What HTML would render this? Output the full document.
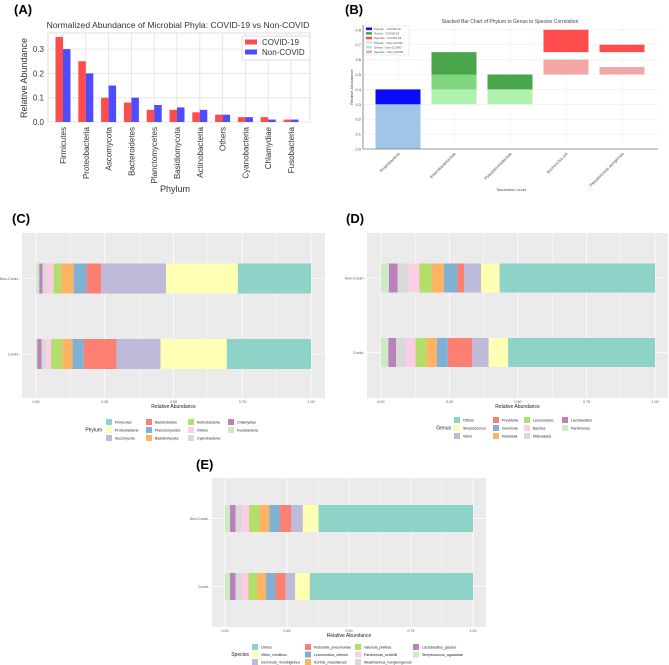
<!DOCTYPE html>
<html><head><meta charset="utf-8"><style>
body{margin:0;background:#fff;}
svg{display:block;font-family:"Liberation Sans",sans-serif;}
</style></head><body>
<svg id="fig" width="669" height="665" viewBox="0 0 669 665">
<rect width="669" height="665" fill="#fff"/>
<text x="14" y="14" font-size="13" font-weight="bold">(A)</text>
<text x="345" y="14" font-size="13" font-weight="bold">(B)</text>
<text x="12" y="223" font-size="13" font-weight="bold">(C)</text>
<text x="346" y="223" font-size="13" font-weight="bold">(D)</text>
<text x="196" y="469" font-size="13" font-weight="bold">(E)</text>
<g id="pa"></g>
<g id="pb"></g>
<g id="pc"></g>
<g id="pd"></g>
<g id="pe"></g>
</svg>
<script>
// ---- Panel A data
const aCats=["Firmicutes","Proteobacteria","Ascomycota","Bacteroidetes","Planctomycetes","Basidiomycota","Actinobacteria","Others","Cyanobacteria","Chlamydiae","Fusobacteria"];
const aCovid=[0.35,0.25,0.10,0.08,0.05,0.05,0.04,0.03,0.02,0.02,0.01];
const aNon=[0.30,0.20,0.15,0.10,0.07,0.06,0.05,0.03,0.02,0.01,0.01];
const aTicks=[0,0.1,0.2,0.3];
// ---- Panel B data
const bCats=["Proteobacteria","Enterobacteriaceae","Pseudomonadaceae","Escherichia coli","Pseudomonas aeruginosa"];
const bSegCat=[0,0,1,1,1,2,2,3,4,3,4];
const bSegBottom=[0,0.3,0.3,0.4,0.5,0.3,0.4,0.5,0.5,0.65,0.65];
const bSegTop=[0.3,0.4,0.4,0.5,0.65,0.4,0.5,0.6,0.55,0.8,0.7];
const bSegColor=["#9fc5e8","#0a0aff","#b0f0b0","#7fd67f","#4aa64a","#b0f0b0","#4aa64a","#f2a7a7","#f2a7a7","#ff4d4d","#ff4d4d"];
const bTicks=[0,0.1,0.2,0.3,0.4,0.5,0.6,0.7,0.8];
const bLegend=["Phylum - COVID-19","Genus - COVID-19","Species - COVID-19","Phylum - Non-COVID","Genus - Non-COVID","Species - Non-COVID"];
const bLegendColor=["#0a0aff","#4aa64a","#ff4d4d","#cfe6f5","#b0f0b0","#f2a7a7"];
// ---- Panel C data (left to right stacking order)
const cNames=["Fusobacteria","Chlamydiae","Cyanobacteria","Others","Actinobacteria","Basidiomycota","Planctomycetes","Bacteroidetes","Ascomycota","Proteobacteria","Firmicutes"];
const cNon=[0.012,0.012,0.016,0.024,0.028,0.045,0.048,0.052,0.236,0.261,0.266];
const cCovid=[0.005,0.015,0.016,0.019,0.040,0.038,0.041,0.119,0.160,0.241,0.306];
// ---- Panel D data
const dNames=["Parvimonas","Lactobacillus","Mitsuokella","Bacillus","Leuconostoc","Klebsiella","Gemmula","Prevotella","Vibrio","Streptococcus","Others"];
const dNon=[0.029,0.032,0.039,0.040,0.045,0.045,0.049,0.024,0.062,0.068,0.567];
const dCovid=[0.027,0.028,0.035,0.036,0.039,0.039,0.040,0.089,0.060,0.071,0.536];
// ---- Panel E data
const eNames=["Streptococcus_agalactiae","Lactobacillus_gasseri","Alkalimarinus_hongkongensis","Parvimonas_sordellii","Valencia_philtrea","Kurthia_massiliensis","Leuconostoc_citreum","Klebsiella_pneumoniae","Gemmula_rhombiglobus","Vibrio_vulnificus","Others"];
const eNon=[0.020,0.023,0.024,0.030,0.042,0.040,0.043,0.044,0.048,0.063,0.623];
const eCovid=[0.020,0.023,0.024,0.027,0.035,0.036,0.039,0.040,0.039,0.059,0.658];
const xTicks=["0.00","0.25","0.50","0.75","1.00"];
const groups=["Non-Covid","Covid"];
const set3=["#ccebc5","#bc80bd","#d9d9d9","#fccde5","#b3de69","#fdb462","#80b1d3","#fb8072","#bebada","#ffffb3","#8dd3c7"];

const NS="http://www.w3.org/2000/svg";
function el(p,tag,at,txt){const e=document.createElementNS(NS,tag);for(const k in at)e.setAttribute(k,at[k]);if(txt!==undefined)e.textContent=txt;p.appendChild(e);return e;}

// ===== Panel A
(function(){
const g=document.getElementById('pa');
const L=48,R=310,T=33,B=122;
const y=v=>B-v*243;
const step=(291-63)/(aCats.length-1);
const cx=i=>63+i*step;
el(g,'rect',{x:L,y:T,width:R-L,height:B-T,fill:'#fff',stroke:'#ddd'});
aTicks.forEach(t=>{el(g,'line',{x1:L,x2:R,y1:y(t),y2:y(t),stroke:'#e6e6e6'});
 const tl=el(g,'text',{x:L-4,y:y(t)+3,'font-size':8,'text-anchor':'end',fill:'#333'},t.toFixed(1));
 });
aCats.forEach((c,i)=>{
 el(g,'line',{x1:cx(i),x2:cx(i),y1:T,y2:B,stroke:'#e6e6e6'});
 const r1=el(g,'rect',{x:cx(i)-7.5,y:y(aCovid[i]),width:7.5,height:B-y(aCovid[i]),fill:'#ff4d4d'});
 
 
 const r2=el(g,'rect',{x:cx(i),y:y(aNon[i]),width:7.5,height:B-y(aNon[i]),fill:'#4d4dff'});
 
 
 const t=el(g,'text',{x:cx(i)+3,y:127,'font-size':8,'text-anchor':'end',fill:'#333',transform:`rotate(-90 ${cx(i)+3} 127)`},c);
 
 
});
el(g,'text',{x:178,y:28,'font-size':8.6,'text-anchor':'middle',fill:'#333'},'Normalized Abundance of Microbial Phyla: COVID-19 vs Non-COVID');
el(g,'text',{x:175,y:192,'font-size':9,'text-anchor':'middle',fill:'#333'},'Phylum');
el(g,'text',{x:27,y:78,'font-size':9,'text-anchor':'middle',fill:'#333',transform:'rotate(-90 27 78)'},'Relative Abundance');
el(g,'rect',{x:242,y:36,width:68,height:24,fill:'#fff',stroke:'#ddd',rx:2});
el(g,'rect',{x:245,y:39.5,width:12,height:5,fill:'#ff4d4d'});
el(g,'rect',{x:245,y:49.5,width:12,height:5,fill:'#4d4dff'});
el(g,'text',{x:262,y:45,'font-size':8,fill:'#333'},'COVID-19');
el(g,'text',{x:262,y:55,'font-size':8,fill:'#333'},'Non-COVID');
})();

// ===== Panel B
(function(){
const g=document.getElementById('pb');
const L=363,R=658,T=25,B=149;
const y=v=>B-v*149;
const cx=i=>398+i*56;
bTicks.forEach(t=>{el(g,'line',{x1:L,x2:R,y1:y(t),y2:y(t),stroke:'#eee','stroke-width':0.6});
 el(g,'text',{x:L-2,y:y(t)+1.5,'font-size':4,'text-anchor':'end',fill:'#444'},t.toFixed(1));});
bCats.forEach((c,i)=>el(g,'line',{x1:cx(i),x2:cx(i),y1:T,y2:B,stroke:'#eee','stroke-width':0.6}));
bSegCat.forEach((ci,k)=>{
 const r=el(g,'rect',{x:cx(ci)-22.5,y:y(bSegTop[k]),width:45,height:y(bSegBottom[k])-y(bSegTop[k]),fill:bSegColor[k]});
 
 
});
el(g,'line',{x1:L,x2:R,y1:B,y2:B,stroke:'#444','stroke-width':0.6});
el(g,'line',{x1:L,x2:L,y1:T,y2:B,stroke:'#444','stroke-width':0.6});
bCats.forEach((c,i)=>{const t=el(g,'text',{x:cx(i)+2,y:154,'font-size':4,'text-anchor':'end',fill:'#444',transform:`rotate(-45 ${cx(i)+2} 154)`},c);
 });
el(g,'text',{x:510,y:23,'font-size':5,'text-anchor':'middle',fill:'#444'},'Stacked Bar Chart of Phylum to Genus to Species Correlation');
el(g,'text',{x:511,y:191,'font-size':4,'text-anchor':'middle',fill:'#444'},'Taxonomic Level');
el(g,'text',{x:353,y:87,'font-size':4,'text-anchor':'middle',fill:'#444',transform:'rotate(-90 353 87)'},'Relative Abundance');
el(g,'rect',{x:364,y:26,width:45,height:29,fill:'#fff',stroke:'#ddd','stroke-width':0.5});
bLegend.forEach((n,i)=>{el(g,'rect',{x:366,y:27.5+i*4.6,width:6,height:2.6,fill:bLegendColor[i]});
 el(g,'text',{x:374,y:30+i*4.6,'font-size':3,fill:'#444'},n);});
})();

// ===== ggplot stacked horizontal bars
function stacked(id,cfg,names,non,cov,legendTitle,legendOrder){
 const g=document.getElementById(id);
 const x=v=>cfg.x0+v*(cfg.x1-cfg.x0);
 el(g,'rect',{x:cfg.L,y:cfg.T,width:cfg.R-cfg.L,height:cfg.B-cfg.T,fill:'#ebebeb'});
 for(let k=0;k<=8;k++){const xx=x(k/8);el(g,'line',{x1:xx,x2:xx,y1:cfg.T,y2:cfg.B,stroke:'#fff','stroke-width':k%2?0.4:0.8});}
 [cfg.yNon,cfg.yCov].forEach(yy=>el(g,'line',{x1:cfg.L,x2:cfg.R,y1:yy,y2:yy,stroke:'#fff','stroke-width':0.8}));
 [non,cov].forEach((vals,gi)=>{
  let acc=0;const yc=gi===0?cfg.yNon:cfg.yCov;
  vals.forEach((v,i)=>{
   const r=el(g,'rect',{x:x(acc),y:yc-cfg.h/2,width:x(acc+v)-x(acc),height:cfg.h,fill:set3[i]});
   
   
   acc+=v;});
  el(g,'text',{x:cfg.L-2,y:yc+1.3,'font-size':3.8,'text-anchor':'end',fill:'#555'},groups[gi]+' -');
 });
 xTicks.forEach((t,i)=>el(g,'text',{x:x(i/4),y:cfg.B+5,'font-size':3.6,'text-anchor':'middle',fill:'#555'},t));
 el(g,'text',{x:(cfg.L+cfg.R)/2,y:cfg.B+10,'font-size':5,'text-anchor':'middle',fill:'#222'},'Relative Abundance');
 el(g,'text',{x:cfg.lgTitleX,y:cfg.lgY+cfg.lgDy+1.5,'font-size':5,'text-anchor':'end',fill:'#222'},legendTitle);
 legendOrder.forEach((idx,k)=>{
  const col=Math.floor(k/3),row=k%3;
  const lx=cfg.lgCols[col],ly=cfg.lgY+row*cfg.lgDy;
  el(g,'rect',{x:lx,y:ly-3,width:6,height:6,fill:set3[idx]});
  el(g,'text',{x:lx+9,y:ly+1.3,'font-size':3.6,fill:'#222'},names[idx]);
 });
}
const legOrder=[10,9,8,7,6,5,4,3,2,1,0];
stacked('pc',{L:22,R:325,T:233,B:398,x0:36,x1:311,yNon:278.5,yCov:354,h:30,lgTitleX:102,lgY:422,lgDy:8,lgCols:[106,146,188,228]},cNames,cNon,cCovid,'Phylum',legOrder);
stacked('pd',{L:367,R:668,T:233,B:398,x0:381,x1:655,yNon:278,yCov:352.5,h:29,lgTitleX:451,lgY:420,lgDy:8,lgCols:[454,493,524,562]},dNames,dNon,dCovid,'Genus',legOrder);
stacked('pe',{L:212,R:486,T:478,B:627,x0:225,x1:473,yNon:518.5,yCov:586.5,h:27,lgTitleX:249,lgY:647,lgDy:7.5,lgCols:[252,305,355,413]},eNames,eNon,eCovid,'Species',legOrder);
</script>
</body></html>
